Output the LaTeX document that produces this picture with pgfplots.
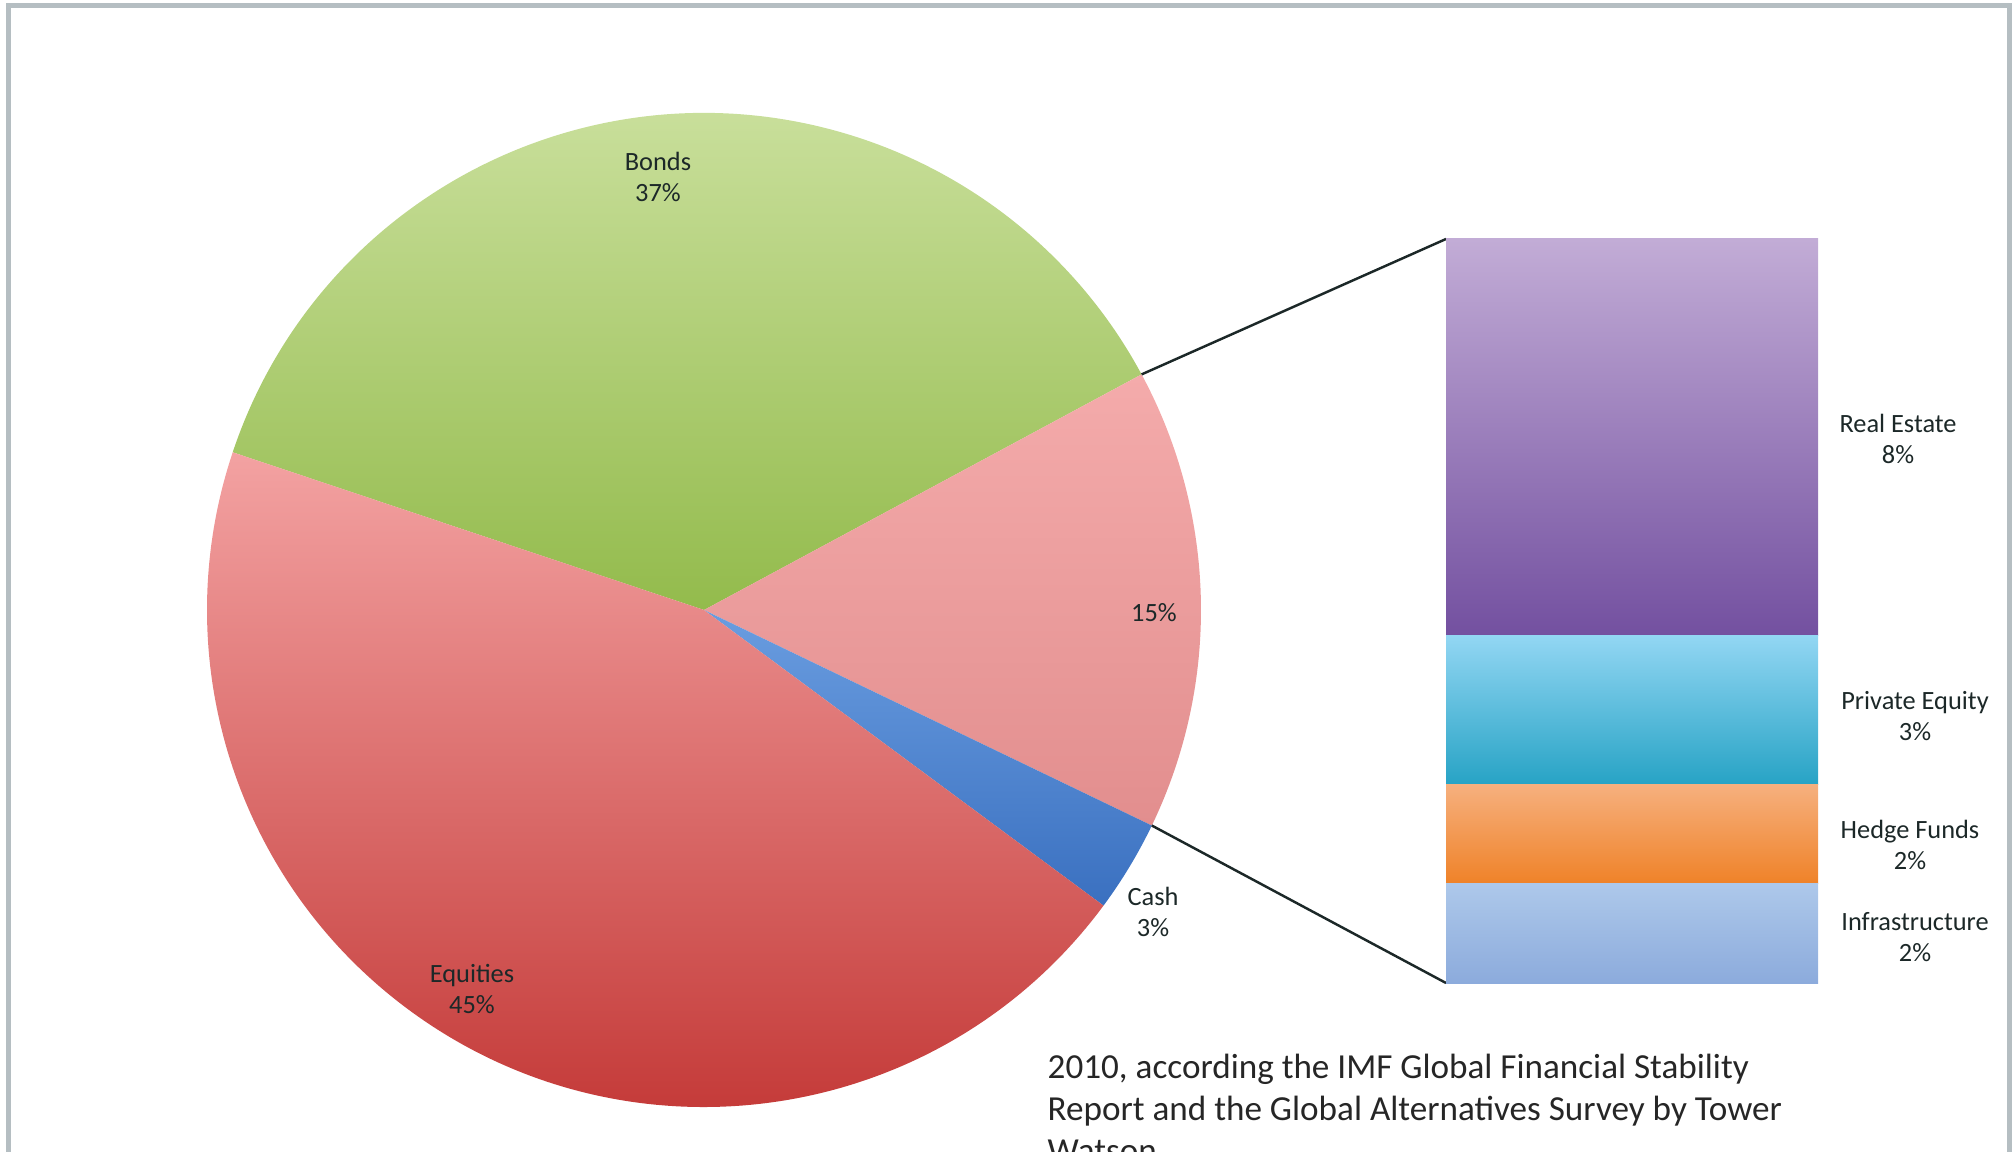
\documentclass[border=0pt]{standalone}
\usepackage{pgfplots}
\pgfplotsset{compat=1.18}
\usepackage{pgfplotstable}
\usepackage{fontspec}
\setmainfont{Carlito}

\definecolor{bondtop}{HTML}{CFE3A4}
\definecolor{bondbot}{HTML}{93BB4C}
\definecolor{eqtop}{HTML}{F3A2A2}
\definecolor{eqbot}{HTML}{C0312F}
\definecolor{alttop}{HTML}{F4ABAB}
\definecolor{altbot}{HTML}{E28E8E}
\definecolor{cashtop}{HTML}{6A9DE0}
\definecolor{cashbot}{HTML}{3A70C0}
\definecolor{retop}{HTML}{C2ACD6}
\definecolor{rebot}{HTML}{7350A0}
\definecolor{petop}{HTML}{92D6F3}
\definecolor{pebot}{HTML}{27A3C5}
\definecolor{hftop}{HTML}{F6B07E}
\definecolor{hfbot}{HTML}{EF8228}
\definecolor{inftop}{HTML}{ADC8EA}
\definecolor{infbot}{HTML}{8CABDC}
\definecolor{framegray}{HTML}{B5BEC2}
\definecolor{labtext}{HTML}{1C2828}

% pie: clockwise from the Bonds/Equities edge
\pgfplotstableread{
label value
Bonds 37
Other 15
Cash 3
Equities 45
}\piedata

\begin{document}
\begin{tikzpicture}
\path[use as bounding box, clip] (0,0) rectangle (20.15,11.51);
\draw[framegray, line width=0.05cm] (0.09,-0.1) -- (0.09,11.45) -- (20.09,11.45) -- (20.09,-0.1);

\pgfmathsetmacro\angA{161.5}
\pgfplotstablegetelem{0}{value}\of\piedata \pgfmathsetmacro\angB{\angA-3.6*\pgfplotsretval}
\pgfplotstablegetelem{1}{value}\of\piedata \pgfmathsetmacro\angC{\angB-3.6*\pgfplotsretval}
\pgfplotstablegetelem{2}{value}\of\piedata \pgfmathsetmacro\angD{\angC-3.6*\pgfplotsretval}
\pgfplotstablegetelem{3}{value}\of\piedata \pgfmathsetmacro\angE{\angD-3.6*\pgfplotsretval}
\def\R{4.97}

\begin{axis}[hide axis, x=1cm, y=1cm, xmin=-5, xmax=5, ymin=-5, ymax=5,
  clip=false, at={(7.04cm,5.41cm)}, anchor=origin]
  \shade[top color=bondtop, bottom color=bondbot] (axis cs:0,0) -- (axis cs:{\R*cos(\angA)},{\R*sin(\angA)})
    arc[start angle=\angA, end angle=\angB, radius=\R cm] -- cycle;
  \shade[top color=alttop, bottom color=altbot] (axis cs:0,0) -- (axis cs:{\R*cos(\angB)},{\R*sin(\angB)})
    arc[start angle=\angB, end angle=\angC, radius=\R cm] -- cycle;
  \shade[top color=cashtop, bottom color=cashbot] (axis cs:0,0) -- (axis cs:{\R*cos(\angC)},{\R*sin(\angC)})
    arc[start angle=\angC, end angle=\angD, radius=\R cm] -- cycle;
  \shade[top color=eqtop, bottom color=eqbot] (axis cs:0,0) -- (axis cs:{\R*cos(\angD)},{\R*sin(\angD)})
    arc[start angle=\angD, end angle=\angE, radius=\R cm] -- cycle;
  % connectors to the bar
  \draw[labtext, line width=0.7pt] (axis cs:{\R*cos(\angB)},{\R*sin(\angB)}) -- (axis cs:7.42,3.71);
  \draw[labtext, line width=0.7pt] (axis cs:{\R*cos(\angC)},{\R*sin(\angC)}) -- (axis cs:7.42,-3.73);
\end{axis}

\begin{axis}[hide axis, ybar stacked, bar width=3.72cm, x=3.72cm, y=0.496cm,
  xmin=-0.5, xmax=0.5, ymin=0, ymax=15, enlargelimits=false, clip=false,
  at={(16.32cm,1.68cm)}, anchor=origin]
  \addplot[draw=none, top color=inftop, bottom color=infbot] coordinates {(0,2)};
  \addplot[draw=none, top color=hftop, bottom color=hfbot] coordinates {(0,2)};
  \addplot[draw=none, top color=petop, bottom color=pebot] coordinates {(0,3)};
  \addplot[draw=none, top color=retop, bottom color=rebot] coordinates {(0,8)};
\end{axis}

\begin{scope}[every node/.style={align=center, text=labtext, font=\fontsize{7.5}{9}\selectfont, inner sep=0pt}]
  \node at (6.58,9.74) {Bonds\\37\%};
  \node at (11.54,5.38) {15\%};
  \node at (11.53,2.39) {Cash\\3\%};
  \node at (4.72,1.62) {Equities\\45\%};
  \node at (18.98,7.12) {Real Estate\\8\%};
  \node at (19.15,4.35) {Private Equity\\3\%};
  \node at (19.10,3.06) {Hedge Funds\\2\%};
  \node at (19.15,2.14) {Infrastructure\\2\%};
\end{scope}

% base anchor of a multi-line node sits on the last line
\node[anchor=base west, align=left, inner sep=0pt, text=black!85, font=\fontsize{10}{11.95}\selectfont]
  at (10.47,-0.11) {2010, according the IMF Global Financial Stability\\Report and the Global Alternatives Survey by Tower\\Watson};
\end{tikzpicture}
\end{document}
